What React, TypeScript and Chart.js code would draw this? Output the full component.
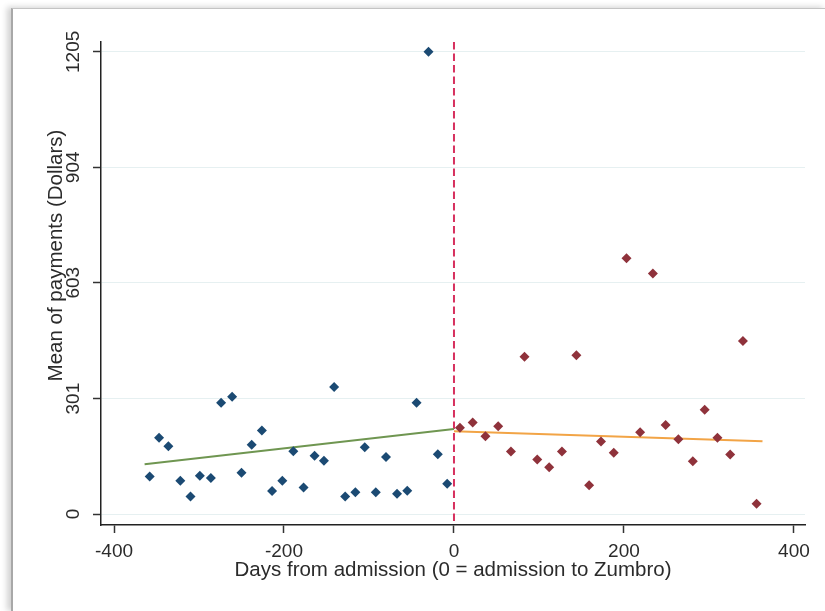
import React, { useEffect, useRef } from "react";
import { Chart, registerables } from "chart.js";

Chart.register(...registerables);

// ---- data ----
const X_TICKS = [-400, -200, 0, 200, 400];
const Y_TICKS = [0, 301, 603, 904, 1205];

const beforeDays = [
  -358, -347, -336, -322, -310, -299, -286, -274, -261, -250,
  -238, -226, -214, -202, -189, -177, -164, -153, -141, -128,
  -116, -105, -92, -80, -67, -55, -44, -30, -19, -8,
];
const beforePay = [
  98, 199, 177, 87, 46, 100, 94, 290, 306, 108,
  181, 218, 60, 87, 164, 69, 152, 139, 331, 46,
  57, 174, 57, 149, 53, 61, 290, 1205, 156, 79,
];

const afterDays = [
  7, 22, 37, 52, 67, 83, 98, 112, 127, 144,
  159, 173, 188, 203, 219, 234, 249, 264, 281, 295,
  310, 325, 340, 356,
];
const afterPay = [
  225, 239, 203, 229, 163, 410, 142, 122, 163, 414,
  75, 189, 160, 667, 213, 627, 232, 195, 138, 272,
  199, 155, 451, 27,
];

const fitBeforeDays = [-364, 0];
const fitBeforePay = [130, 222];
const fitAfterDays = [0, 363];
const fitAfterPay = [216, 190];

const CUTOFF_DAY = 0;
const X_TITLE = "Days from admission (0 = admission to Zumbro)";
const Y_TITLE = "Mean of payments (Dollars)";

const FONT = "'Liberation Sans', Arial, sans-serif";
const TEXT_COLOR = "#2b2b2b";

const zip = (xs: number[], ys: number[]) => xs.map((x, i) => ({ x, y: ys[i] }));

const customPlugin = {
  id: "stataExtras",
  beforeDatasetsDraw(chart: any) {
    const { ctx, chartArea, scales } = chart;
    const xp = scales.x.getPixelForValue(CUTOFF_DAY);
    ctx.save();
    ctx.strokeStyle = "#d7305e";
    ctx.lineWidth = 2;
    ctx.setLineDash([7.5, 4]);
    ctx.beginPath();
    ctx.moveTo(xp, chartArea.top);
    ctx.lineTo(xp, chartArea.bottom);
    ctx.stroke();
    ctx.restore();
  },
  afterDraw(chart: any) {
    const { ctx, scales } = chart;
    const y = scales.y;
    ctx.save();
    ctx.fillStyle = TEXT_COLOR;
    ctx.font = `19px ${FONT}`;
    ctx.textAlign = "center";
    ctx.textBaseline = "alphabetic";
    for (const v of Y_TICKS) {
      const py = y.getPixelForValue(v);
      ctx.save();
      ctx.translate(y.right - 22.5, py);
      ctx.rotate(-Math.PI / 2);
      ctx.fillText(String(v), 0, 0);
      ctx.restore();
    }
    ctx.font = `20.5px ${FONT}`;
    ctx.textBaseline = "middle";
    ctx.save();
    ctx.translate(y.right - 45, (y.top + y.bottom) / 2 - 28);
    ctx.rotate(-Math.PI / 2);
    ctx.fillText(Y_TITLE, 0, 0);
    ctx.restore();
    ctx.restore();
  },
};

export default function App() {
  const ref = useRef<HTMLCanvasElement | null>(null);

  useEffect(() => {
    if (!ref.current) return;
    const chart = new Chart(ref.current, {
      type: "scatter",
      data: {
        datasets: [
          {
            label: "before",
            data: zip(beforeDays, beforePay),
            pointStyle: "rectRot",
            pointRadius: 5,
            backgroundColor: "#1b4a73",
            borderColor: "#1b4a73",
            borderWidth: 0,
            order: 1,
          },
          {
            label: "after",
            data: zip(afterDays, afterPay),
            pointStyle: "rectRot",
            pointRadius: 5,
            backgroundColor: "#8f323b",
            borderColor: "#8f323b",
            borderWidth: 0,
            order: 1,
          },
          {
            type: "line",
            label: "fit before",
            data: zip(fitBeforeDays, fitBeforePay),
            borderColor: "#6f9651",
            borderWidth: 2,
            pointRadius: 0,
            fill: false,
            order: 2,
          } as any,
          {
            type: "line",
            label: "fit after",
            data: zip(fitAfterDays, fitAfterPay),
            borderColor: "#f2a446",
            borderWidth: 2,
            pointRadius: 0,
            fill: false,
            order: 2,
          } as any,
        ],
      },
      options: {
        responsive: false,
        animation: false,
        devicePixelRatio: 1,
        layout: { padding: { top: 42, right: 20, left: 0, bottom: 0 } },
        plugins: {
          legend: { display: false },
          tooltip: { enabled: false },
        },
        scales: {
          x: {
            type: "linear",
            min: -415.3,
            max: 413,
            afterBuildTicks: (s: any) => {
              s.ticks = X_TICKS.map((v) => ({ value: v }));
            },
            afterFit: (s: any) => {
              s.height = 86;
            },
            grid: {
              drawOnChartArea: false,
              drawTicks: true,
              tickLength: 8,
              tickColor: "#333",
              tickWidth: 1.5,
            },
            border: { color: "#222", width: 1.5 },
            ticks: {
              color: TEXT_COLOR,
              font: { family: FONT, size: 19 },
              padding: 7,
              maxRotation: 0,
              autoSkip: false,
              callback: (v: any) => String(v),
            },
            title: {
              display: true,
              text: X_TITLE,
              color: TEXT_COLOR,
              font: { family: FONT, size: 20.5 },
              padding: { top: 0, bottom: 28 },
            },
          },
          y: {
            type: "linear",
            min: -28.5,
            max: 1230.6,
            afterBuildTicks: (s: any) => {
              s.ticks = Y_TICKS.map((v) => ({ value: v }));
            },
            afterFit: (s: any) => {
              s.width = 101;
            },
            grid: {
              color: "#e6f0f1",
              lineWidth: 1,
              drawTicks: true,
              tickLength: 8,
              tickColor: "#333",
              tickWidth: 1.5,
            },
            border: { color: "#222", width: 1.5 },
            ticks: { display: false },
          },
        },
      },
      plugins: [customPlugin],
    } as any);
    return () => chart.destroy();
  }, []);

  return (
    <>
      <div
        style={{
          position: "fixed",
          left: 11,
          top: 8,
          width: 814,
          height: 603,
          borderLeft: "2px solid #a8a8a8",
          borderTop: "1px solid #c4c4c4",
          boxShadow: "-4px -1px 6px rgba(0,0,0,0.18)",
          background: "#fff",
        }}
      />
      <canvas
        ref={ref}
        width={825}
        height={611}
        style={{ position: "fixed", left: 0, top: 0, width: 825, height: 611 }}
      />
    </>
  );
}
